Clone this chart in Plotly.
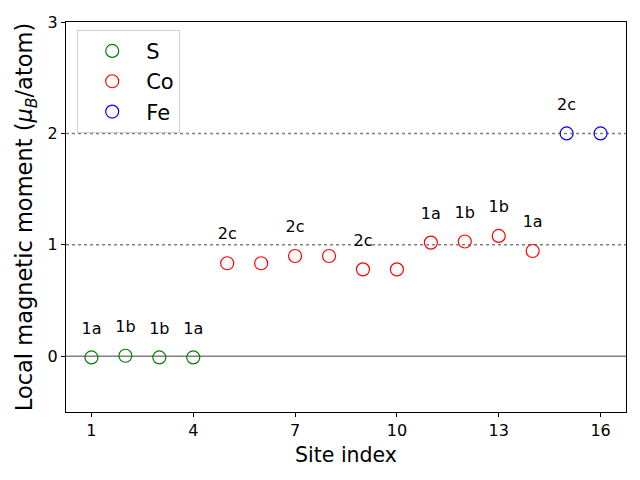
import plotly.graph_objects as go

# site index -> local magnetic moment (mu_B/atom)
s_sites = [1, 2, 3, 4]
s_moments = [-0.01, 0.005, -0.01, -0.01]
co_sites = [5, 6, 7, 8, 9, 10, 11, 12, 13, 14]
co_moments = [0.835, 0.835, 0.90, 0.90, 0.78, 0.78, 1.02, 1.03, 1.08, 0.945]
fe_sites = [15, 16]
fe_moments = [2.0, 2.0]

# Wyckoff labels shown above selected sites
label_sites = [1, 2, 3, 4, 5, 7, 9, 11, 12, 13, 14, 15]
label_text = ["1a", "1b", "1b", "1a", "2c", "2c", "2c", "1a", "1b", "1b", "1a", "2c"]

x_ticks = [1, 4, 7, 10, 13, 16]
y_ticks = [0, 1, 2, 3]

font = "DejaVu Sans"
all_sites = s_sites + co_sites + fe_sites
all_moments = s_moments + co_moments + fe_moments
moment_of = dict(zip(all_sites, all_moments))

fig = go.Figure()

for name, xs, ys, col in [("S", s_sites, s_moments, "green"),
                          ("Co", co_sites, co_moments, "red"),
                          ("Fe", fe_sites, fe_moments, "blue")]:
    fig.add_trace(go.Scatter(
        x=xs, y=ys, mode="markers", name=name,
        marker=dict(symbol="circle-open", size=13, color=col, line=dict(width=1.2, color=col)),
    ))

fig.add_trace(go.Scatter(
    x=label_sites, y=[moment_of[s] + 0.25 for s in label_sites],
    mode="text", text=label_text, showlegend=False,
    textfont=dict(family=font, size=16, color="black"),
))

fig.add_hline(y=0, line=dict(color="gray", width=1.5), layer="below")
fig.add_hline(y=1, line=dict(color="gray", width=1.5, dash="dot"), layer="below")
fig.add_hline(y=2, line=dict(color="gray", width=1.5, dash="dot"), layer="below")

axis_common = dict(
    showgrid=False, zeroline=False, showline=True, linecolor="black", linewidth=1,
    mirror=True, ticks="outside", ticklen=4, tickcolor="black", automargin=False,
    tickfont=dict(family=font, size=16, color="black"),
)

# page body adds an 8px offset, so the figure is 632x472 to fill the window
fig.update_layout(
    width=632, height=472,
    plot_bgcolor="white", paper_bgcolor="white",
    margin=dict(l=58, r=14, t=14, b=68),
    font=dict(family=font, color="black"),
    xaxis=dict(range=[0.25, 16.75], tickvals=x_ticks,
               title=dict(text="Site index", font=dict(size=20.5), standoff=8), **axis_common),
    yaxis=dict(range=[-0.5, 3], tickvals=y_ticks,
               title=dict(text="Local magnetic moment (<i>μ</i><sub><i>B</i></sub>/atom)",
                          font=dict(size=22.5), standoff=8), **axis_common),
    legend=dict(x=0.02, y=0.98, xanchor="left", yanchor="top",
                bgcolor="rgba(255,255,255,0.8)", bordercolor="#d0d0d0", borderwidth=1,
                font=dict(family=font, size=21), itemwidth=58, tracegroupgap=0),
)

fig.write_html("out.html")
